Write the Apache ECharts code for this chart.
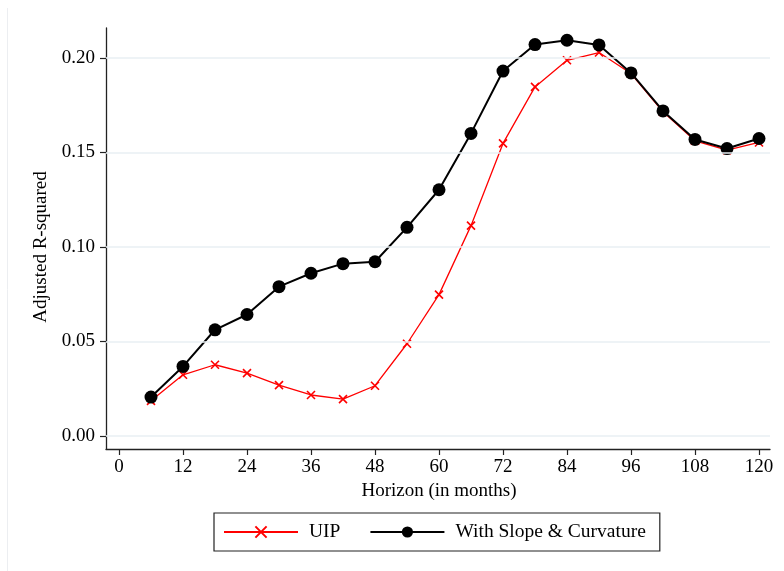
<!DOCTYPE html>
<html>
<head>
<meta charset="utf-8">
<script src="https://cdn.jsdelivr.net/npm/echarts@6/dist/echarts.min.js"></script>
<style>html,body{margin:0;padding:0;background:#fff;}#c{width:784px;height:571px;}</style>
</head>
<body>
<div id="c"></div>
<script>
// Data
var horizons = [6,12,18,24,30,36,42,48,54,60,66,72,78,84,90,96,102,108,114,120];
var uip = [0.0186,0.0324,0.0377,0.0333,0.0269,0.0217,0.0195,0.0266,0.0488,0.0748,0.1113,0.1548,0.1847,0.1988,0.2029,0.1918,0.1715,0.1562,0.1512,0.1553];
var slopeCurv = [0.0206,0.0368,0.0562,0.0643,0.0790,0.0861,0.0912,0.0922,0.1104,0.1303,0.1601,0.1931,0.2071,0.2094,0.2069,0.1921,0.1720,0.1569,0.1521,0.1574];
var yTicks = [0, 0.05, 0.10, 0.15, 0.20];
var xTicks = [0,12,24,36,48,60,72,84,96,108,120];
var seriesNames = ['UIP', 'With Slope & Curvature'];
var xTitle = 'Horizon (in months)';
var yTitle = 'Adjusted R-squared';

function pairs(xs, ys){ return xs.map(function(x,i){ return [x, ys[i]]; }); }

var FONT = "'Liberation Serif','Times New Roman',serif";
var AX = '#222';
var chart = echarts.init(document.getElementById('c'), null, {renderer:'canvas'});
chart.setOption({
  backgroundColor: '#fff',
  animation: false,
  textStyle: {fontFamily: FONT, color: '#000'},
  graphic: [{type:'line', shape:{x1:7.5,y1:8,x2:7.5,y2:571}, style:{stroke:'#eceef1', lineWidth:1}, silent:true}],
  grid: [
    {left:106, right:14, top:28, bottom:122},
    {left:119, right:25, top:58, bottom:135}
  ],
  xAxis: [
    {gridIndex:0, type:'value', min:-13/5.33333, max:120+11/5.33333,
     axisLine:{show:true, onZero:false, lineStyle:{color:AX, width:1.3}},
     axisTick:{show:false}, axisLabel:{show:false}, splitLine:{show:false}},
    {gridIndex:1, type:'value', min:0, max:120, interval:12, offset:13, position:'bottom',
     axisLine:{show:true, onZero:false, lineStyle:{color:'rgba(0,0,0,0)', width:0}},
     axisTick:{show:true, length:6, lineStyle:{color:AX, width:1.2}},
     axisLabel:{show:true, margin:9, fontSize:19, fontFamily:FONT, color:'#000'},
     splitLine:{show:false},
     name:xTitle, nameLocation:'middle', nameGap:31,
     nameTextStyle:{fontSize:19, fontFamily:FONT, color:'#000'}}
  ],
  yAxis: [
    {gridIndex:0, type:'value', min:-13/1890, max:0.2+30/1890,
     axisLine:{show:true, onZero:false, lineStyle:{color:AX, width:1.3}},
     axisTick:{show:false}, axisLabel:{show:false}, splitLine:{show:false}},
    {gridIndex:1, type:'value', min:0, max:0.2, interval:0.05, offset:13, position:'left',
     axisLine:{show:true, onZero:false, lineStyle:{color:'rgba(0,0,0,0)', width:0}},
     axisTick:{show:true, length:6, lineStyle:{color:AX, width:1.2}},
     axisLabel:{show:true, margin:11, fontSize:19, fontFamily:FONT, color:'#000',
       formatter:function(v){ return v.toFixed(2); }},
     splitLine:{show:false},
     name:yTitle, nameLocation:'middle', nameGap:55,
     nameTextStyle:{fontSize:19, fontFamily:FONT, color:'#000'}}
  ],
  legend: {
    data: seriesNames,
    left: 214, top: 513,
    orient: 'horizontal',
    itemWidth: 74, itemHeight: 14, itemGap: 29,
    padding: [9, 14, 9, 9],
    borderColor: AX, borderWidth: 1.2,
    textStyle: {fontSize:19.5, fontFamily:FONT, color:'#000', padding:[0,0,0,6]}
  },
  series: [
    {type:'line', xAxisIndex:0, yAxisIndex:0, data:[], silent:true, z:1,
     markLine:{silent:true, symbol:'none', label:{show:false},
       lineStyle:{color:'#e9eff3', width:1.6, type:'solid'},
       data: yTicks.map(function(v){ return {yAxis:v}; })}},
    {name:seriesNames[0], type:'line', xAxisIndex:0, yAxisIndex:0, z:3,
     data: pairs(horizons, uip),
     symbol:'path://M0,0L10,10M10,0L0,10', symbolSize:8, showSymbol:true,
     lineStyle:{color:'#ff0000', width:1.3},
     itemStyle:{color:'#ff0000', borderColor:'#ff0000', borderWidth:1.6}},
    {name:seriesNames[1], type:'line', xAxisIndex:0, yAxisIndex:0, z:4,
     data: pairs(horizons, slopeCurv),
     symbol:'circle', symbolSize:13, showSymbol:true,
     lineStyle:{color:'#000', width:2},
     itemStyle:{color:'#000'}}
  ]
});
</script>
</body>
</html>
